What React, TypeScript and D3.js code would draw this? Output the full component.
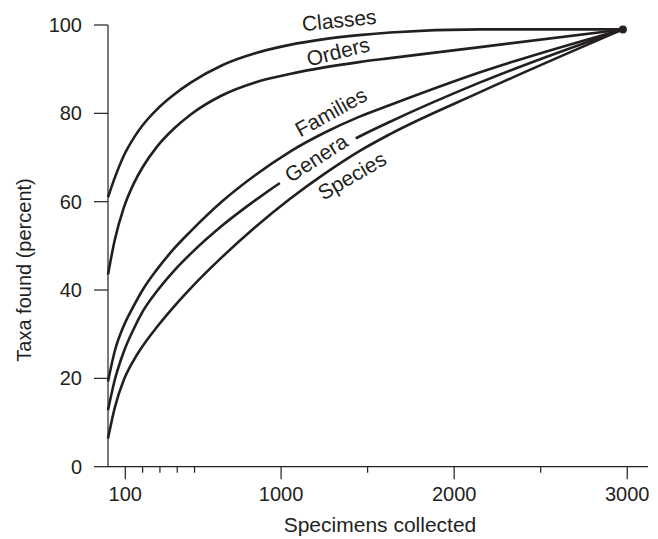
import React from "react";
import * as d3 from "d3";

const specimens = [0, 40, 90, 150, 200, 280, 380, 480, 660, 850, 1050, 1250, 1450, 1630, 2150, 2975];
const classes = [61, 65.5, 70.3, 74.5, 77.3, 80.8, 84.2, 87.0, 90.9, 93.6, 95.5, 96.8, 97.7, 98.3, 99.0, 99];
const orders = [43.5, 51.5, 58.5, 64.2, 67.8, 72.3, 76.5, 79.8, 84.1, 87.0, 88.9, 90.4, 91.6, 92.5, 95.0, 99];
const families = [19.3, 26.3, 31.8, 36.5, 40, 44.5, 49.3, 53.4, 60.1, 66.0, 71.3, 75.6, 79.2, 81.9, 89.3, 99];
const genera = [12.8, 19.8, 25.9, 31.3, 35.1, 39.6, 44.3, 48.3, 54.6, 60.3, 65.7, 70.5, 74.7, 78.1, 87.0, 99];
const species = [6.4, 13.5, 19.5, 24.2, 27.3, 31.5, 36.2, 40.5, 47.5, 54.2, 60.6, 66.3, 71.4, 75.3, 84.8, 99];

const seriesNames = ["Classes", "Orders", "Families", "Genera", "Species"];
const seriesValues = [classes, orders, families, genera, species];
// label anchor in data units and rotation
const labelX = [1335, 1329, 1288, 1202, 1410];
const labelY = [101.1, 94.0, 80.3, 69.9, 65.9];
const labelAngle = [-6, -14, -29, -33, -30];

const yTicks = [0, 20, 40, 60, 80, 100];
const xMajorTicks = [100, 1000, 2000, 3000];
const xMinorTicks = [200, 300, 400, 500, 1500, 2500];
const endPoint = [2975, 99];

const W = 658;
const H = 539;
const INK = "#231f20";
const FONT = "'Liberation Sans', Arial, Helvetica, sans-serif";

export default function App() {
  const x = d3.scaleLinear().domain([0, 3120]).range([108, 648]);
  const y = d3.scaleLinear().domain([0, 100]).range([466.7, 25]);
  const line = d3
    .line<number>()
    .x((_, i) => x(specimens[i]))
    .y((d) => y(d))
    .curve(d3.curveMonotoneX);

  const gi = 3;
  const gx = x(labelX[gi]);
  const gy = y(labelY[gi]);

  return (
    <svg
      width={W}
      height={H}
      style={{ position: "absolute", left: 0, top: 0, background: "#fff" }}
      fontFamily={FONT}
    >
      <defs>
        <mask id="generaMask" maskUnits="userSpaceOnUse" x={0} y={0} width={W} height={H}>
          <rect x={0} y={0} width={W} height={H} fill="white" />
          <rect
            x={-44}
            y={-13}
            width={88}
            height={26}
            fill="black"
            transform={`translate(${gx},${gy}) rotate(${labelAngle[gi]})`}
          />
        </mask>
      </defs>
      {/* y axis */}
      <line x1={x(0)} x2={x(0)} y1={y(0)} y2={y(100)} stroke={INK} strokeWidth={1.2} />
      {yTicks.map((t) => (
        <g key={"y" + t}>
          <line x1={x(0) - 14} x2={x(0)} y1={y(t)} y2={y(t)} stroke={INK} strokeWidth={1.2} />
          <text x={x(0) - 26} y={y(t)} dy="0.35em" textAnchor="end" fontSize={20} fill={INK}>
            {t}
          </text>
        </g>
      ))}
      {/* x axis */}
      <line x1={x(0)} x2={648} y1={y(0)} y2={y(0)} stroke={INK} strokeWidth={1.2} />
      {xMajorTicks.map((t) => (
        <g key={"x" + t}>
          <line x1={x(t)} x2={x(t)} y1={y(0)} y2={y(0) + 12.5} stroke={INK} strokeWidth={1.2} />
          <text x={x(t)} y={501} textAnchor="middle" fontSize={20} fill={INK}>
            {t}
          </text>
        </g>
      ))}
      {xMinorTicks.map((t) => (
        <line key={"m" + t} x1={x(t)} x2={x(t)} y1={y(0)} y2={y(0) + 6} stroke={INK} strokeWidth={1.2} />
      ))}
      <text x={380} y={531.5} textAnchor="middle" fontSize={21} fill={INK}>
        Specimens collected
      </text>
      <text
        transform={`translate(31,270) rotate(-90)`}
        textAnchor="middle"
        fontSize={20}
        fill={INK}
      >
        Taxa found (percent)
      </text>
      {/* curves */}
      {seriesValues.map((vals, i) => (
        <path
          key={seriesNames[i]}
          d={line(vals) || ""}
          fill="none"
          stroke={INK}
          strokeWidth={2.6}
          mask={i === gi ? "url(#generaMask)" : undefined}
        />
      ))}
      <circle cx={x(endPoint[0])} cy={y(endPoint[1])} r={4} fill={INK} />
      {seriesNames.map((n, i) => (
        <text
          key={"l" + n}
          transform={`translate(${x(labelX[i])},${y(labelY[i])}) rotate(${labelAngle[i]})`}
          textAnchor="middle"
          dy="0.35em"
          fontSize={21}
          fill={INK}
        >
          {n}
        </text>
      ))}
    </svg>
  );
}
